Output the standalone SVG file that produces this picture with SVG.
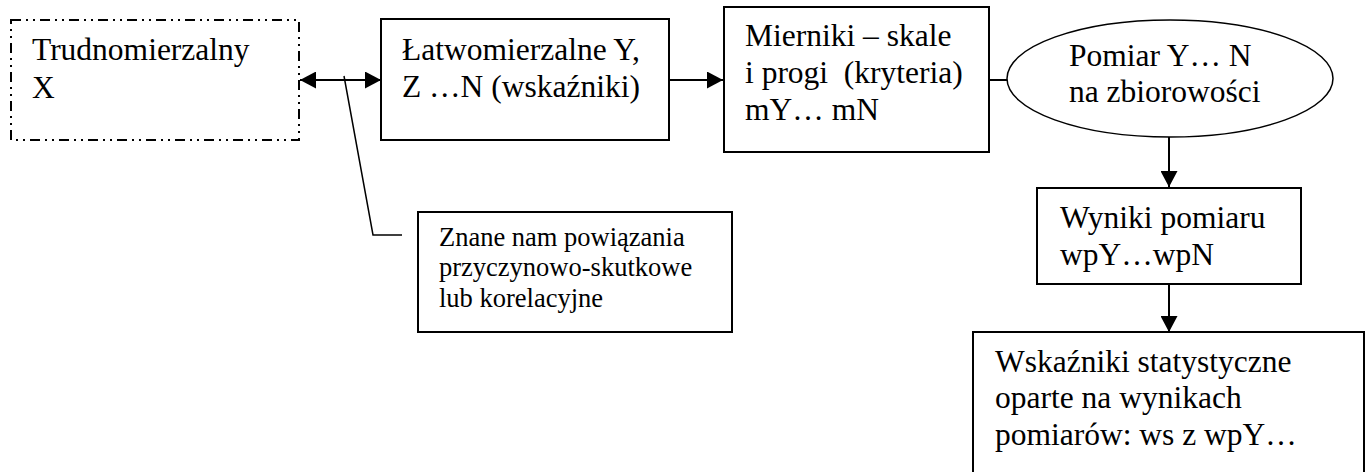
<svg xmlns="http://www.w3.org/2000/svg" width="1365" height="472" viewBox="0 0 1365 472">
<style>
  text { font-family: "Liberation Serif", "Times New Roman", serif; fill: #000; white-space: pre; }
  .big { font-size: 31.5px; }
  .small { font-size: 26.5px; }
  .box { fill: #fff; stroke: #000; stroke-width: 2; }
  .dash { fill: #fff; stroke: #000; stroke-width: 2; stroke-dasharray: 10 5 2 5 2 5; }
  .line { fill: none; stroke: #000; stroke-width: 2; }
  .thin { fill: none; stroke: #000; stroke-width: 1.5; }
</style>
<defs>
  <marker id="ah" markerUnits="userSpaceOnUse" markerWidth="16" markerHeight="17" viewBox="0 0 16 17" refX="16" refY="8.5" orient="auto-start-reverse">
    <path d="M0,0 L16,8.5 L0,17 Z" fill="#000"/>
  </marker>
</defs>
<rect width="1365" height="472" fill="#fff"/>

<g id="connectors">
  <line class="line" x1="300" y1="80" x2="381" y2="80" marker-start="url(#ah)" marker-end="url(#ah)"/>
  <polyline class="thin" points="344,76 373,235 402,235"/>
  <line class="line" x1="669" y1="80" x2="723" y2="80" marker-end="url(#ah)"/>
  <line class="line" x1="989" y1="80" x2="1007" y2="80"/>
  <line class="line" x1="1169" y1="137" x2="1169" y2="187" marker-end="url(#ah)"/>
  <line class="line" x1="1169" y1="284" x2="1169" y2="332" marker-end="url(#ah)"/>
</g>

<g id="node-trudnomierzalny">
  <rect class="dash" x="11" y="20" width="288" height="120"/>
  <text class="big" x="32" y="60">Trudnomierzalny</text>
  <text class="big" x="32" y="98">X</text>
</g>

<g id="node-latwomierzalne">
  <rect class="box" x="381" y="19" width="288" height="121"/>
  <text class="big" x="402" y="60">Łatwomierzalne Y,</text>
  <text class="big" x="402" y="97">Z …N (wskaźniki)</text>
</g>

<g id="node-mierniki">
  <rect class="box" x="724" y="7" width="265" height="145"/>
  <text class="big" x="745" y="46">Mierniki – skale</text>
  <text class="big" x="745" y="83">i progi  (kryteria)</text>
  <text class="big" x="745" y="120">mY… mN</text>
</g>

<g id="node-pomiar">
  <ellipse class="thin" cx="1170" cy="78.5" rx="163" ry="58.5" fill="#fff"/>
  <text class="big" x="1069" y="66">Pomiar Y… N</text>
  <text class="big" x="1069" y="102">na zbiorowości</text>
</g>

<g id="node-wyniki">
  <rect class="box" x="1037" y="188" width="264" height="96"/>
  <text class="big" x="1060" y="228">Wyniki pomiaru</text>
  <text class="big" x="1060" y="265">wpY…wpN</text>
</g>

<g id="node-wskazniki">
  <rect class="box" x="973" y="332" width="391" height="150"/>
  <text class="big" x="995" y="372">Wskaźniki statystyczne</text>
  <text class="big" x="995" y="408">oparte na wynikach</text>
  <text class="big" x="995" y="445">pomiarów: ws z wpY…</text>
</g>

<g id="node-powiazania">
  <rect class="box" x="418" y="212" width="314" height="120"/>
  <text class="small" x="439" y="246">Znane nam powiązania</text>
  <text class="small" x="439" y="276">przyczynowo-skutkowe</text>
  <text class="small" x="439" y="307">lub korelacyjne</text>
</g>
</svg>
